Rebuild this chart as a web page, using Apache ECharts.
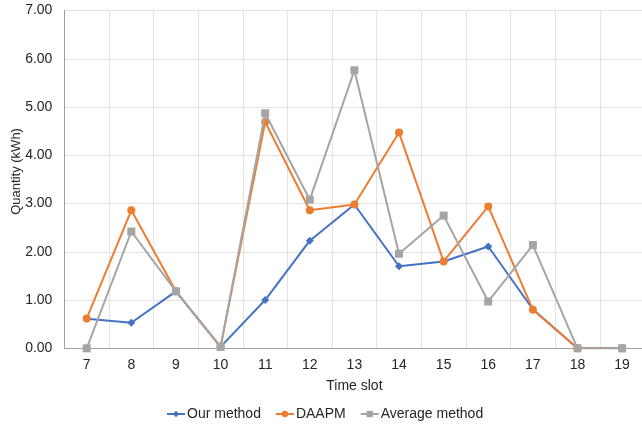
<!DOCTYPE html>
<html>
<head>
<meta charset="utf-8">
<script src="https://cdn.jsdelivr.net/npm/echarts@6/dist/echarts.min.js"></script>
<style>
  html, body { margin: 0; padding: 0; background: #fff; }
  #chart { width: 642px; height: 424px; }
</style>
</head>
<body>
<div id="chart"></div>
<script>
const timeSlots = ['7', '8', '9', '10', '11', '12', '13', '14', '15', '16', '17', '18', '19'];
const ourMethod = [0.61, 0.53, 1.18, 0.03, 1.00, 2.23, 2.98, 1.70, 1.80, 2.11, 0.81, 0, 0];
const daapm = [0.62, 2.86, 1.18, 0.03, 4.69, 2.86, 2.98, 4.47, 1.80, 2.94, 0.80, 0, 0];
const averageMethod = [0, 2.42, 1.18, 0.03, 4.87, 3.08, 5.76, 1.96, 2.75, 0.97, 2.14, 0, 0];

const chart = echarts.init(document.getElementById('chart'));
const font = 'Liberation Sans, Arial, sans-serif';
const txt = '#262626';

const option = {
  animation: false,
  textStyle: { fontFamily: font },
  color: ['#4472C4', '#ED7D31', '#A5A5A5'],
  grid: { left: 64.4, right: -2.4, top: 10.5, bottom: 75.7, outerBoundsMode: 'none', containLabel: false },
  legend: {
    top: 402,
    left: 161,
    itemWidth: 18,
    itemHeight: 8,
    itemGap: 14,
    textStyle: { fontSize: 14, color: txt, fontFamily: font, padding: [0, 0, 0, -3] }
  },
  xAxis: {
    type: 'category',
    data: timeSlots,
    boundaryGap: true,
    name: 'Time slot',
    nameLocation: 'middle',
    nameGap: 31,
    nameTextStyle: { fontSize: 14, color: txt },
    axisLine: { lineStyle: { color: '#a0a0a0', width: 1 } },
    axisTick: { show: false },
    axisLabel: { fontSize: 14, color: txt, margin: 10 },
    splitLine: { show: true, lineStyle: { color: '#e3e3e3' } }
  },
  yAxis: {
    type: 'value',
    min: 0,
    max: 7,
    interval: 1,
    name: 'Quantity (kWh)',
    nameLocation: 'middle',
    nameGap: 41,
    nameMoveOverlap: false,
    nameTextStyle: { fontSize: 13, color: txt, padding: [0, 0, 0, 16] },
    axisLine: { show: true, lineStyle: { color: '#a0a0a0', width: 1 } },
    axisTick: { show: false },
    axisLabel: { fontSize: 14, color: txt, margin: 12, formatter: v => v.toFixed(2) },
    splitLine: { lineStyle: { color: '#e3e3e3' } }
  },
  series: [
    {
      name: 'Our method',
      type: 'line',
      data: ourMethod,
      symbol: 'diamond',
      symbolSize: 8,
      lineStyle: { width: 2 },
      z: 2
    },
    {
      name: 'DAAPM',
      type: 'line',
      data: daapm,
      symbol: 'circle',
      symbolSize: 8,
      lineStyle: { width: 2 },
      z: 3
    },
    {
      name: 'Average method',
      type: 'line',
      data: averageMethod,
      symbol: 'rect',
      symbolSize: 8,
      lineStyle: { width: 2 },
      z: 4
    }
  ]
};

chart.setOption(option);
</script>
</body>
</html>
